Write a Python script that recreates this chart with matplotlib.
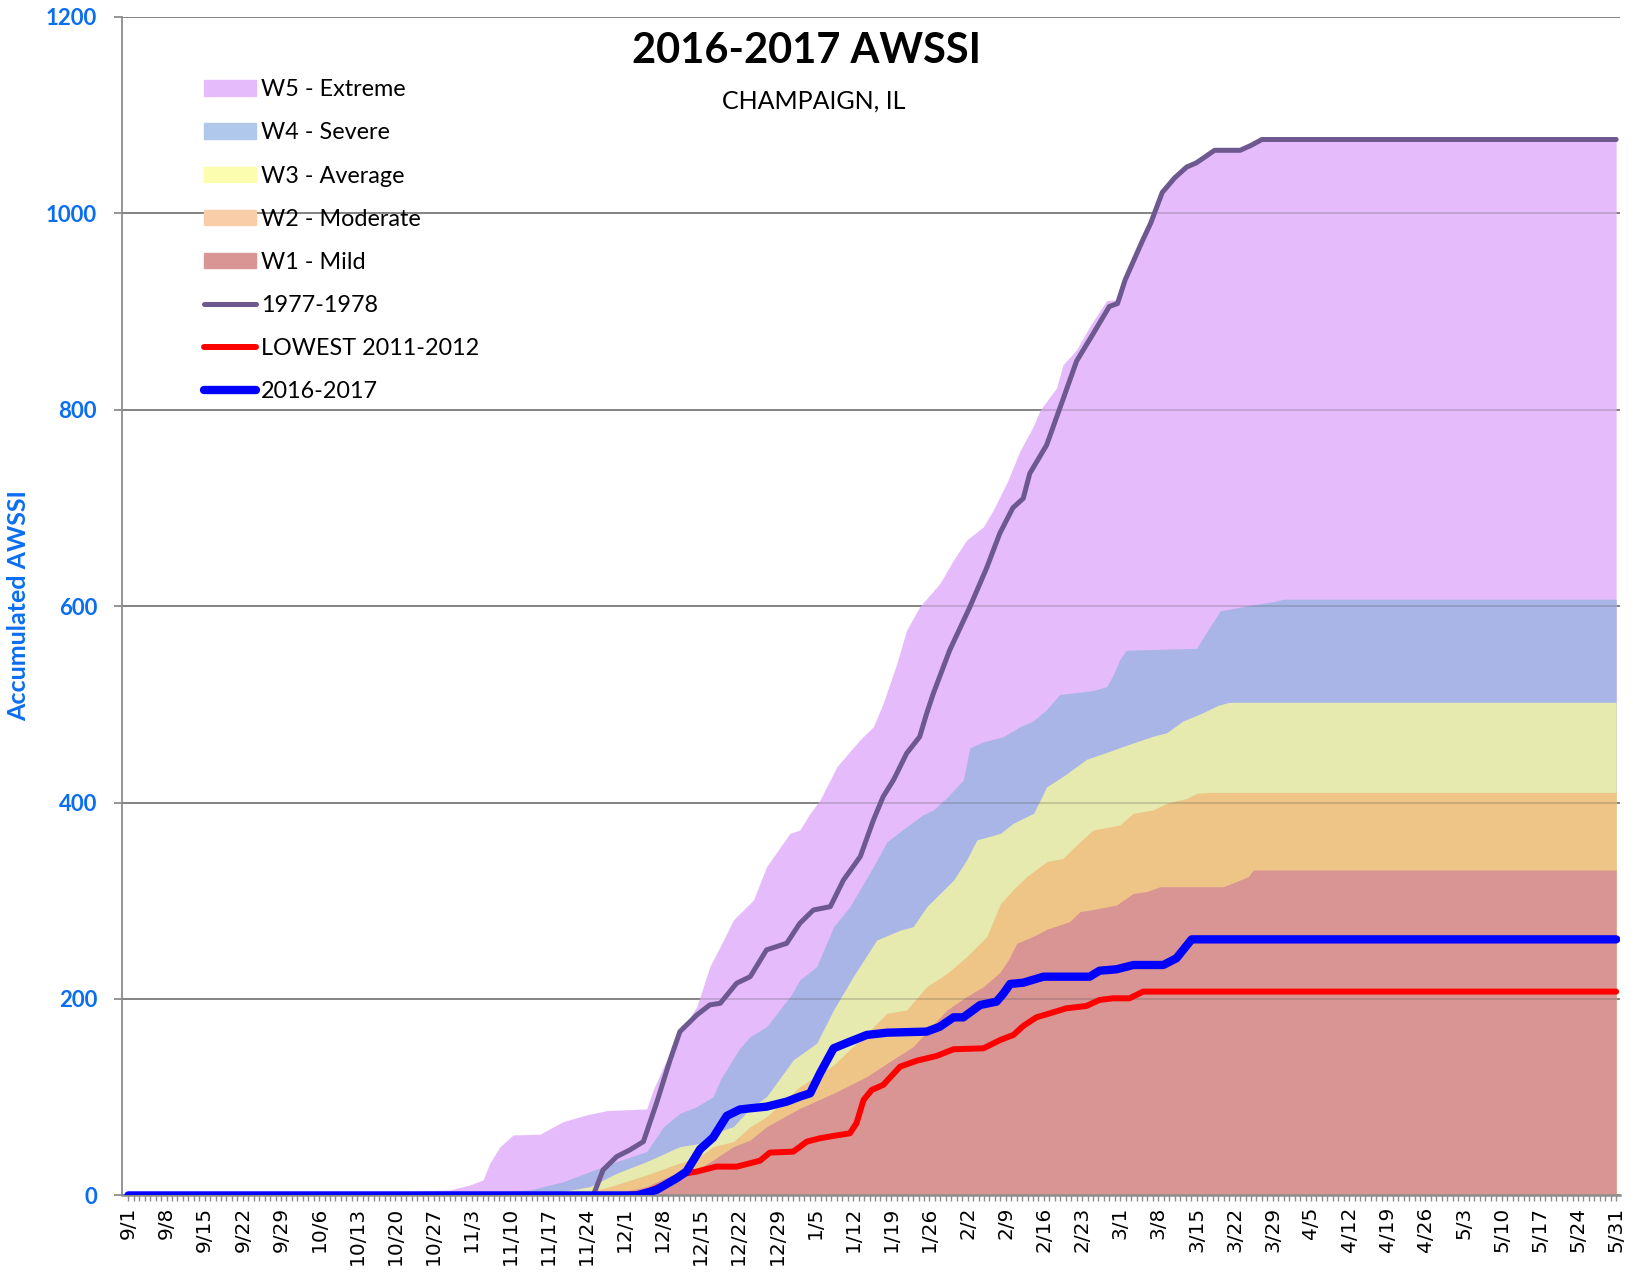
import matplotlib.pyplot as plt
from matplotlib.patches import Patch
from matplotlib.lines import Line2D

plt.rcParams['font.family'] = ['Lato', 'DejaVu Sans']

# dag-index vanaf 9/1 (0) t/m 5/31 (273), waarde = geaccumuleerde AWSSI
w5 = [(0, 0), (46, 0), (48, 3), (55, 4.9), (59, 5.6), (62.7, 10.7), (65.1, 15.8), (66.3, 32.8),
      (68.2, 49.7), (70.6, 61.6), (75.5, 62.3), (79.8, 75.2), (84.1, 82), (87.8, 86.4), (95.1, 88.1),
      (96.3, 107.4), (98.2, 131.1), (101.2, 165), (104.3, 192.2), (106.7, 233), (109.2, 260),
      (111, 280.4), (114.7, 300.8), (117.1, 334.7), (121.4, 368.6), (123.2, 372), (125.1, 389),
      (126.9, 402.5), (130, 436.4), (134.2, 463.6), (136.7, 477.2), (138.5, 500.9), (141, 541.6),
      (142.8, 575.5), (145.2, 599.3), (148.9, 623), (151.4, 646.8), (153.8, 667.1), (156.9, 680.7),
      (158.7, 697.7), (161.4, 728), (163.6, 758), (166, 782.5), (167.3, 799.5), (170.3, 822),
      (171.5, 845.6), (174, 861), (176.4, 884.6), (179.5, 911), (181.5, 912), (182.9, 934),
      (186, 973), (187.6, 992), (189.7, 1023), (194.2, 1049), (195.9, 1053), (199.3, 1066),
      (204, 1066), (206, 1071), (208, 1076), (273, 1076)]
w4 = [(0, 0), (65, 0), (66, 2), (73.7, 5.6), (79.8, 14), (84.7, 24.3), (89.6, 34.5), (95.1, 44.6),
      (98.2, 70), (101.2, 83.6), (104.3, 90.4), (107.3, 100.6), (108.6, 117.5), (112.2, 150),
      (114.1, 161.7), (117.1, 171.8), (121.4, 202.4), (123.2, 219.3), (126.3, 233), (129.4, 273.6),
      (132.4, 294), (136.7, 334.7), (139.2, 360), (142.8, 375.4), (145.8, 387.5), (147.7, 392.4),
      (150.2, 405), (153.2, 423), (154.4, 455.7), (156.8, 461.6), (160.5, 467), (163.6, 477.2),
      (166, 483), (168.5, 494.7), (170.9, 510), (177, 514), (179.5, 518), (180.7, 529.8),
      (181.9, 545.4), (183.1, 555), (196, 557), (200.3, 595), (205, 600), (210.5, 605), (212, 607),
      (273, 607)]
w3 = [(0, 0), (77, 0), (78.6, 2.9), (84.7, 9), (89.6, 22.6), (95.1, 34.5), (101.2, 49.7), (104.9, 53),
      (107.3, 63.3), (111, 70), (114, 88), (117.1, 100.6), (122, 138), (126.3, 155), (129.4, 189),
      (133, 222.7), (137.3, 260), (141.6, 270), (144, 273.6), (146.5, 294), (151.4, 321),
      (153.8, 341.5), (155.7, 362), (160, 368.6), (162.4, 379), (166.1, 389), (168.5, 416),
      (172, 428.5), (175.8, 444), (180, 452), (183, 458), (188, 467.5), (190.5, 471), (193.5, 483),
      (197, 491), (200, 499), (202, 502), (273, 502)]
w2 = [(0, 0), (81.6, 0), (84, 3), (88.4, 9), (95.1, 20.9), (101.2, 33), (104.9, 40), (107.3, 49.7),
      (111, 54.8), (114.1, 70), (117.1, 80.2), (123.2, 110.8), (129.4, 132.8), (135.5, 165),
      (139.2, 185.4), (142.8, 188.8), (146.5, 212.6), (150.2, 226), (153.8, 243), (157.5, 263.4),
      (160, 297), (162.3, 311), (164.8, 324.5), (168.5, 339.8), (171.5, 343.2), (174, 356.7),
      (177, 372), (181.9, 377.1), (184.4, 389), (188, 392.4), (190.5, 399.2), (194.2, 404.2),
      (196, 409.3), (198.4, 410.3), (273, 410.3)]
w1 = [(0, 0), (88, 0), (89.6, 2.2), (95.1, 9), (101.8, 26), (104.9, 28), (107.3, 36.1), (111, 49.7),
      (114.1, 56.5), (117.1, 70), (123.2, 88.7), (129.4, 104), (135.5, 121), (139.2, 134.5),
      (144, 151.5), (150.2, 188.8), (153.8, 202.4), (156.9, 212.6), (159.9, 227), (161.5, 240),
      (163, 256.7), (166.1, 264), (168.5, 270.9), (172.7, 278.7), (174.6, 288.9), (178.2, 292.3),
      (181.3, 295.7), (184.4, 307.5), (186.8, 309.2), (189.3, 314.3), (200.9, 314.3), (204, 321.1),
      (205.5, 324.5), (206.4, 331.3), (273, 331.3)]

jaar_1977 = [(0, 0), (85.3, 0), (87.1, 26), (89.6, 39.5), (92, 46.3), (94.5, 54.8), (96.9, 93.8),
             (99.4, 137.9), (101.2, 166.8), (104.3, 183.7), (106.7, 194), (108.6, 195.6), (111.6, 216),
             (114.1, 222.7), (117.1, 250), (120.8, 256.7), (123.2, 277), (125.7, 290.6), (128.8, 294),
             (131.2, 321), (134.3, 345), (136.7, 382), (138.5, 406), (140.4, 423), (142.8, 450),
             (145.2, 467), (146.5, 491), (147.7, 511), (150.7, 555), (154.4, 599), (157.5, 639),
             (159.9, 674), (162.3, 700), (164.2, 709.6), (165.4, 735), (168.5, 764), (171.5, 810.5),
             (174, 849.5), (177, 877), (180, 905), (181.5, 908), (182.9, 932), (186, 971),
             (187.6, 990), (189.7, 1021), (192, 1036), (194.2, 1047), (195.9, 1051), (197.5, 1057),
             (199.3, 1064), (204, 1064), (206, 1069), (208, 1075), (273, 1075)]
laagste_2011 = [(0, 0), (90.8, 0), (94.5, 2), (98.2, 10.7), (101.8, 21.9), (104.3, 24.3), (107.9, 29.4),
                (111.6, 29.3), (114.1, 32.8), (115.9, 35.4), (117.7, 43.6), (122, 44.6), (124.5, 54.8),
                (126.9, 58.2), (129.4, 60.6), (132.4, 63.3), (133.6, 73.5), (134.9, 97.2),
                (136.4, 107.4), (138.5, 112.5), (141.6, 131.1), (144.7, 137.2), (148.3, 142),
                (151.4, 148.8), (156.9, 149.8), (160, 158.3), (162.4, 163.4), (164.2, 172.5),
                (166.6, 181.3), (169.1, 185.4), (172.1, 190.5), (175.8, 192.9), (178.2, 199),
                (180.7, 200.7), (183.7, 200.7), (186.2, 207.5), (273, 207.5)]
seizoen_2016 = [(0, 0), (93.3, 0), (96.9, 5.6), (100.6, 17.5), (102.4, 24.3), (104.9, 47), (107.3, 59),
                (109.8, 81), (112.2, 87.5), (114.1, 88.7), (117.1, 90.4), (120.8, 95.5), (123.2, 100.6),
                (125.1, 104), (126.9, 124.3), (129.4, 149.8), (132.4, 156.6), (135.5, 163.4),
                (139.2, 165.7), (146.5, 166.8), (148.9, 171.8), (151.4, 181.3), (153.2, 181.3),
                (156.3, 193.9), (159.3, 197.3), (160.6, 205.8), (161.8, 215.3), (164.2, 216.6),
                (167.9, 222.7), (176.4, 222.7), (178.2, 228.8), (181.3, 230.2), (184.4, 234.6),
                (189.9, 234.6), (192.3, 241.4), (195.1, 260.7), (273, 260.7)]

datum_labels = ['9/1', '9/8', '9/15', '9/22', '9/29', '10/6', '10/13', '10/20', '10/27', '11/3',
                '11/10', '11/17', '11/24', '12/1', '12/8', '12/15', '12/22', '12/29', '1/5', '1/12',
                '1/19', '1/26', '2/2', '2/9', '2/16', '2/23', '3/1', '3/8', '3/15', '3/22', '3/29',
                '4/5', '4/12', '4/19', '4/26', '5/3', '5/10', '5/17', '5/24', '5/31']

blauw = '#0A6EF0'
grijs = '#8C8C8C'

fig = plt.figure(figsize=(16.37, 12.75), dpi=100)
ax = fig.add_axes([0.0746, 0.0624, 0.915, 0.9245])

# vlakken, achterste eerst
vlakken = [(w5, '#E6BBFC'), (w4, '#A9B5E7'), (w3, '#E6EAAE'), (w2, '#EEC586'), (w1, '#D99594')]
for punten, kleur in vlakken:
    x, y = zip(*punten)
    ax.fill_between(x, y, 0, color=kleur, lw=0, zorder=1)

# rasterlijnen schemeren door de vlakken heen
for yv in range(200, 1201, 200):
    ax.axhline(yv, color='#505050', lw=1.3, alpha=0.25, zorder=1.5)

lijnen = [(jaar_1977, '#6E5890', 3.6), (laagste_2011, '#FF0000', 4.3), (seizoen_2016, '#0000FF', 6.0)]
for punten, kleur, dikte in lijnen:
    x, y = zip(*punten)
    ax.plot(x, y, color=kleur, lw=dikte, solid_joinstyle='round', solid_capstyle='round', zorder=3)

ax.set_xlim(-1.15, 273.7)
ax.set_ylim(0, 1200)
ax.set_yticks(range(0, 1201, 200))
ax.grid(axis='y', color=grijs, lw=1.3)
ax.set_axisbelow(True)

ax.set_xticks(range(0, 274, 7))
ax.set_xticklabels(datum_labels, rotation=90, fontfamily='DejaVu Sans', fontsize=14.5)
ax.set_xticks(range(0, 274), minor=True)
ax.tick_params(axis='x', which='both', length=4, width=1, color=grijs, pad=4)
ax.tick_params(axis='y', length=6, width=1.3, color=grijs, pad=12, labelsize=16, labelcolor=blauw)
for lab in ax.get_yticklabels():
    lab.set_fontweight('bold')

for kant in ['top', 'right']:
    ax.spines[kant].set_visible(False)
ax.spines['left'].set_color(grijs)
ax.spines['left'].set_linewidth(1.3)
ax.spines['bottom'].set_color(grijs)
ax.spines['bottom'].set_linewidth(1.8)

fig.text(0.4925, 0.9503, '2016-2017 AWSSI', ha='center', va='baseline', fontsize=30, fontweight='bold')
fig.text(0.497, 0.9145, 'CHAMPAIGN, IL', ha='center', va='baseline', fontsize=18)
fig.text(0.0115, 0.525, 'Accumulated AWSSI', rotation=90, ha='center', va='center',
         fontsize=18, fontweight='bold', color=blauw)

handles = [Patch(color='#E6BBFC'), Patch(color='#AFC8EC'), Patch(color='#FDFDB0'),
           Patch(color='#F9CDA8'), Patch(color='#D99594'),
           Line2D([], [], color='#6E5890', lw=3.6, solid_capstyle='round'),
           Line2D([], [], color='#FF0000', lw=4.3, solid_capstyle='round'),
           Line2D([], [], color='#0000FF', lw=6.0, solid_capstyle='round')]
labels = ['W5 - Extreme', 'W4 - Severe', 'W3 - Average', 'W2 - Moderate', 'W1 - Mild',
          '1977-1978', 'LOWEST 2011-2012', '2016-2017']
ax.legend(handles, labels, loc='upper left', bbox_to_anchor=(0.0545, 0.947), frameon=False,
          fontsize=16.8, borderpad=0, borderaxespad=0, labelspacing=0.95, handlelength=2.25,
          handleheight=0.65, handletextpad=0.2)

fig.savefig('out.png', dpi=100)
